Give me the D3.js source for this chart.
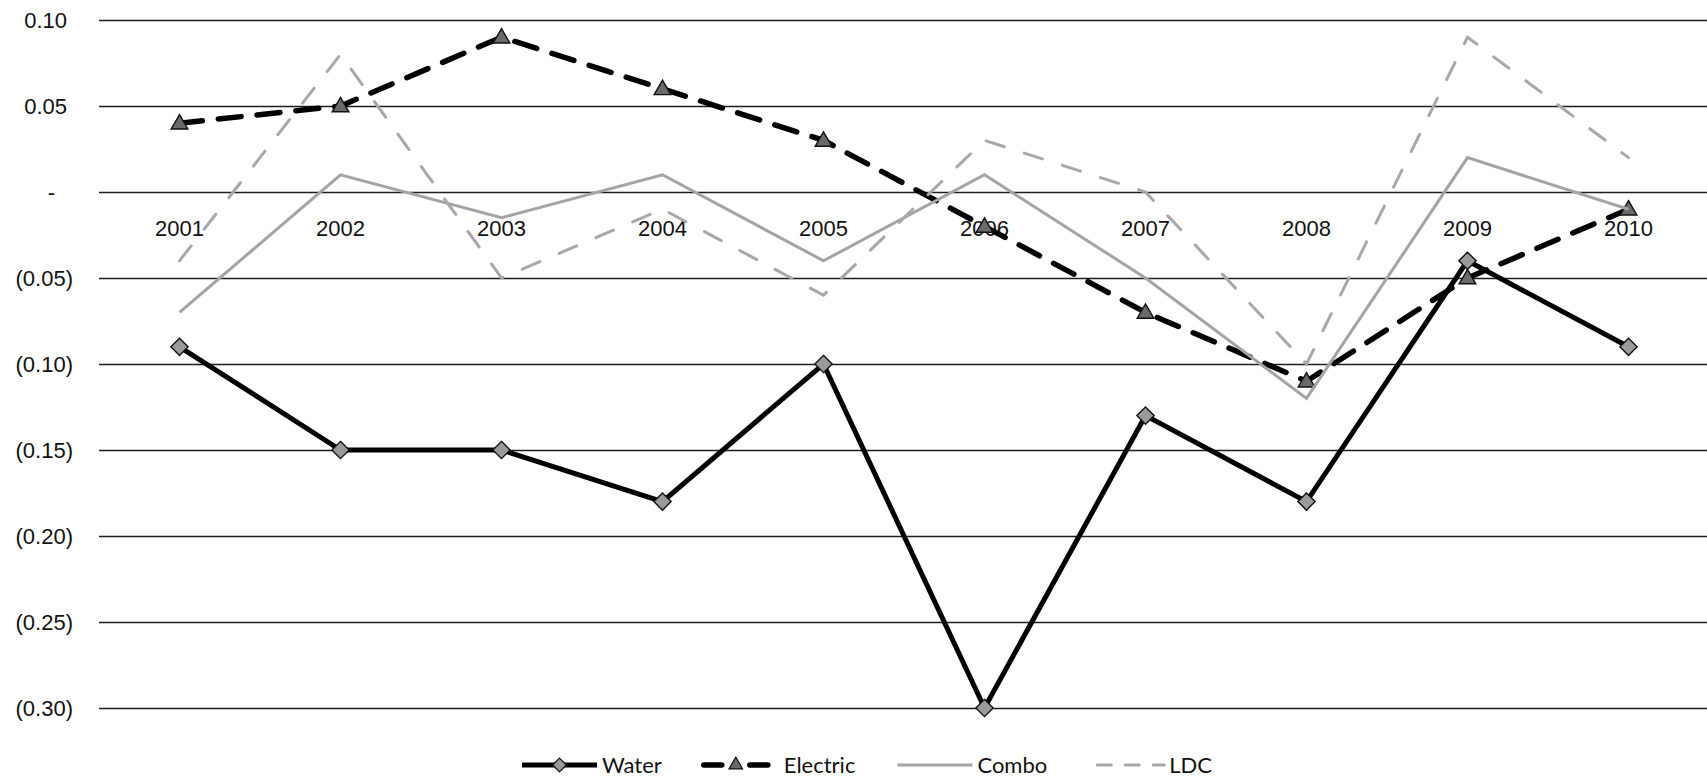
<!DOCTYPE html>
<html>
<head>
<meta charset="utf-8">
<script src="https://cdn.jsdelivr.net/npm/d3@7"></script>
<style>
  html, body { margin: 0; padding: 0; background: #fff; }
  svg { display: block; font-family: Lato, "Noto Sans", sans-serif; }
</style>
</head>
<body>
<script>
// data
const years = ["2001", "2002", "2003", "2004", "2005", "2006", "2007", "2008", "2009", "2010"];
const water    = [-0.09, -0.15, -0.15, -0.18, -0.10, -0.30, -0.13, -0.18, -0.04, -0.09];
const electric = [0.04, 0.05, 0.09, 0.06, 0.03, -0.02, -0.07, -0.11, -0.05, -0.01];
const combo    = [-0.07, 0.01, -0.015, 0.01, -0.04, 0.01, -0.05, -0.12, 0.02, -0.01];
const ldc      = [-0.04, 0.08, -0.05, -0.01, -0.06, 0.03, 0.00, -0.10, 0.09, 0.02];
const yTicks = [0.10, 0.05, 0, -0.05, -0.10, -0.15, -0.20, -0.25, -0.30];

const W = 1707, H = 781;
const plotLeft = 99, plotRight = 1709, plotTop = 20, plotBottom = 708;

const svg = d3.select("body").append("svg")
    .attr("width", W)
    .attr("height", H);

let x = d3.scaleBand()
    .domain(years)
    .range([plotLeft, plotRight]);

let y = d3.scaleLinear()
    .domain([-0.30, 0.10])
    .range([plotBottom, plotTop]);

// accounting style labels: 0.05, -, (0.05)
function acct(v) {
    if (Math.abs(v) < 1e-9) return "-";
    if (v < 0) return "(" + d3.format(".2f")(-v) + ")";
    return d3.format(".2f")(v);
}

let yAxis = d3.axisLeft(y)
    .tickValues(yTicks)
    .tickSize(-(W - plotLeft))
    .tickFormat(acct);

let gy = svg.append("g")
    .attr("class", "y axis")
    .attr("transform", "translate(" + plotLeft + ",0)")
    .call(yAxis);

gy.select(".domain").remove();
gy.selectAll(".tick line")
    .attr("stroke", "#1e1e1e")
    .attr("stroke-width", 1.5);
gy.selectAll(".tick text")
    .attr("x", function (d) {
        if (Math.abs(d) < 1e-9) return -44;
        return d < 0 ? -26 : -32;
    })
    .attr("fill", "#111")
    .style("font-size", "22px");

let xAxis = d3.axisBottom(x)
    .tickSize(0)
    .tickPadding(28);

let gx = svg.append("g")
    .attr("class", "x axis")
    .attr("transform", "translate(0," + y(0) + ")")
    .call(xAxis);

gx.select(".domain").remove();
gx.selectAll(".tick text")
    .attr("fill", "#111")
    .style("font-size", "22px");

const cx = function (d, i) { return x(years[i]) + x.bandwidth() / 2; };

const series = [
    {name: "Water", values: water, stroke: "#000", width: 5, dash: null, marker: "diamond"},
    {name: "Electric", values: electric, stroke: "#000", width: 5.5, dash: "23,16", marker: "triangle"},
    {name: "Combo", values: combo, stroke: "#a4a4a4", width: 3, dash: null, marker: null},
    {name: "LDC", values: ldc, stroke: "#a8a8a8", width: 3, dash: "19,21", marker: null}
];

let line = d3.line()
    .x(cx)
    .y(function (d) { return y(d); });

let diamond = d3.symbol().type(d3.symbolDiamond2).size(190);
let triangle = d3.symbol().type(d3.symbolTriangle).size(120);

series.forEach(function (s) {
    let g = svg.append("g").attr("class", "series");
    g.append("path")
        .datum(s.values)
        .attr("fill", "none")
        .attr("stroke", s.stroke)
        .attr("stroke-width", s.width)
        .attr("stroke-dasharray", s.dash)
        .attr("stroke-linecap", s.dash ? "round" : "butt")
        .attr("stroke-linejoin", "miter")
        .attr("d", line);

    if (s.marker) {
        g.selectAll(".mark")
            .data(s.values)
            .enter().append("path")
            .attr("class", "mark")
            .attr("transform", function (d, i) {
                return "translate(" + cx(d, i) + "," + (y(d) + (s.marker === "triangle" ? 1 : 0)) + ")";
            })
            .attr("d", s.marker === "diamond" ? diamond : triangle)
            .attr("fill", s.marker === "diamond" ? "#9a9a9a" : "#6a6a6a")
            .attr("stroke", "#111")
            .attr("stroke-width", 1.4);
    }
});

// legend
let legend = svg.append("g").attr("class", "legend");
let lx = 522;
const ly = 765;
series.forEach(function (s) {
    let g = legend.append("g");
    let isElec = s.name === "Electric";
    let sampleW = isElec ? 64 : 75;
    g.append("line")
        .attr("x1", lx).attr("x2", lx + sampleW)
        .attr("y1", ly).attr("y2", ly)
        .attr("stroke", s.stroke)
        .attr("stroke-width", s.width)
        .attr("stroke-dasharray", s.dash ? (isElec ? "18,28" : "14,14") : null)
        .attr("stroke-dashoffset", s.dash && !isElec ? -8 : null)
        .attr("stroke-linecap", s.dash ? "round" : "butt");
    if (s.marker) {
        g.append("path")
            .attr("transform", "translate(" + (lx + sampleW / 2) + "," + ly + ")")
            .attr("d", s.marker === "diamond" ? d3.symbol().type(d3.symbolDiamond2).size(120)() : d3.symbol().type(d3.symbolTriangle).size(80)())
            .attr("fill", s.marker === "diamond" ? "#9a9a9a" : "#6a6a6a")
            .attr("stroke", "#111")
            .attr("stroke-width", 1.2);
    }
    let t = g.append("text")
        .attr("x", lx + 80)
        .attr("y", ly)
        .attr("dy", "0.35em")
        .attr("fill", "#111")
        .style("font-size", "22px")
        .text(s.name);
    lx += 80 + t.node().getComputedTextLength() + 42;
});
</script>
</body>
</html>
